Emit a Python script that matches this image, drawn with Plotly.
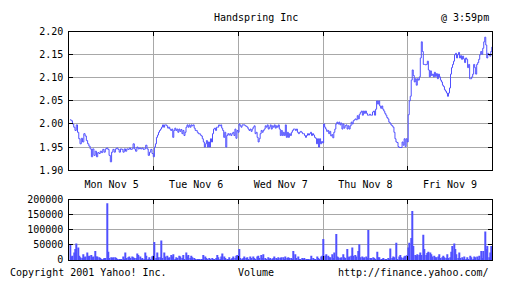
import plotly.graph_objects as go
import numpy as np

# ---------------- data ----------------
days = ["Mon Nov 5", "Tue Nov 6", "Wed Nov 7", "Thu Nov 8", "Fri Nov 9"]

price_mon = [2.009,2.007,2.000,1.993,1.986,1.998,1.982,1.968,1.957,1.969,1.961,1.979,1.974,1.964,1.957,1.952,1.946,1.929,1.946,1.932,1.941,1.929,1.938,1.936,1.941,1.938,1.945,1.939,1.946,1.948,1.945,1.932,1.918,1.939,1.945,1.939,1.946,1.948,1.945,1.939,1.946,1.945,1.939,1.946,1.941,1.946,1.945,1.948,1.945,1.946,1.957,1.946,1.941,1.950,1.946,1.948,1.946,1.948,1.945,1.946,1.954,1.946,1.932,1.939,1.945,1.936,1.929]
price_tue = [1.950,1.957,1.971,1.976,1.982,1.986,1.989,1.993,1.998,1.993,1.998,1.998,1.996,1.991,1.993,1.989,1.986,1.989,1.971,1.986,1.991,1.986,1.989,1.982,1.989,1.984,1.988,1.979,1.986,1.975,1.982,1.993,1.998,1.993,1.998,1.993,1.998,1.996,1.998,1.991,1.986,1.986,1.982,1.979,1.979,1.976,1.974,1.968,1.961,1.950,1.957,1.964,1.950,1.961,1.950,1.968,1.961,1.979,1.989,1.991,1.986,1.993,1.993,1.998,1.996,1.998,1.991,1.986,1.971,1.982,1.950,1.975,1.979,1.976,1.979,1.975,1.979,1.982,1.975,1.989,1.969,1.986,1.982]
price_wed = [2.000,1.996,1.993,1.998,1.998,1.998,1.996,1.995,1.993,1.989,1.986,1.989,1.984,1.989,1.993,1.996,1.979,1.982,1.971,1.961,1.968,1.979,1.986,1.982,1.986,1.989,1.996,1.993,1.998,1.989,1.993,1.998,1.989,1.996,1.993,1.998,1.991,1.996,1.993,1.998,1.989,1.975,1.986,1.975,1.982,1.975,1.998,1.971,1.982,1.971,1.979,1.975,1.982,1.986,1.989,1.989,1.986,1.989,1.982,1.979,1.982,1.984,1.982,1.979,1.979,1.975,1.971,1.975,1.979,1.976,1.979,1.982,1.975,1.979,1.976,1.971,1.969,1.957,1.968,1.950,1.968,1.957,1.962,1.959]
price_thu = [2.000,1.993,1.989,1.984,1.986,1.979,1.984,1.974,1.977,1.970,1.982,1.989,2.000,2.004,2.000,2.004,1.998,2.002,1.989,2.000,1.991,1.996,1.998,1.989,1.996,1.989,1.996,2.004,2.000,2.007,2.009,2.011,2.009,2.018,2.011,2.021,2.025,2.028,2.019,2.028,2.023,2.028,2.023,2.019,2.019,2.021,2.019,2.019,2.026,2.028,2.019,2.032,2.050,2.043,2.050,2.039,2.034,2.039,2.032,2.028,2.023,2.019,2.014,2.011,2.004,2.002,1.998,1.996,1.993,1.982,1.968,1.961,1.960,1.951,1.949,1.949,1.949,1.961,1.954,1.968,1.951,1.968,1.961]
price_fri = [2.020,2.050,2.060,2.095,2.117,2.105,2.091,2.098,2.084,2.098,2.095,2.102,2.143,2.178,2.157,2.129,2.129,2.128,2.129,2.136,2.117,2.102,2.115,2.105,2.108,2.102,2.112,2.103,2.109,2.098,2.108,2.102,2.095,2.091,2.084,2.081,2.074,2.071,2.067,2.060,2.067,2.078,2.108,2.122,2.129,2.136,2.150,2.153,2.143,2.150,2.155,2.143,2.148,2.140,2.147,2.141,2.133,2.143,2.140,2.122,2.129,2.098,2.098,2.102,2.108,2.129,2.122,2.108,2.129,2.133,2.140,2.150,2.157,2.151,2.164,2.178,2.188,2.171,2.143,2.153,2.150,2.147,2.157,2.167]

vol_mon = [52000,11000,14000,25000,36000,55000,41000,14000,9000,5000,19000,9000,11000,25000,12000,14000,16000,9000,11000,30000,11000,11000,9000,5000,3000,1000,5000,5000,189000,27000,5000,9000,5000,9000,9000,5000,3000,3000,3000,3000,11000,3000,25000,5000,9000,11000,5000,11000,9000,5000,5000,21000,16000,11000,3000,5000,3000,25000,14000,3000,9000,3000,12000,14000]
vol_tue = [60000,5000,25000,9000,9000,65000,5000,25000,11000,14000,5000,9000,16000,11000,19000,3000,9000,5000,14000,11000,5000,16000,3000,25000,11000,16000,5000,14000,9000,5000,3000,3000,1000,1000,1000,1000,16000,11000,5000,3000,5000,3000,5000,3000,3000,5000,16000,9000,3000,11000,21000,11000,5000,3000,3000,9000,3000,5000,11000,5000,14000,16000]
vol_wed = [36000,5000,3000,5000,11000,5000,9000,3000,11000,5000,11000,5000,3000,11000,14000,5000,16000,5000,19000,5000,3000,9000,3000,5000,3000,5000,11000,5000,3000,9000,5000,9000,9000,3000,11000,5000,9000,5000,5000,3000,30000,19000,5000,11000,3000,1000,5000,3000,5000,3000,1000,3000,3000,14000,5000,3000,3000,11000,5000,3000,11000,14000]
vol_thu = [70000,14000,19000,14000,9000,9000,19000,5000,25000,86000,11000,9000,5000,9000,19000,9000,5000,36000,9000,11000,14000,41000,14000,16000,11000,30000,52000,9000,11000,5000,9000,11000,5000,100000,5000,5000,9000,5000,3000,27000,9000,9000,3000,3000,5000,3000,3000,5000,3000,38000,5000,11000,9000,57000,3000,11000,16000,9000,5000,11000,14000,16000]
vol_fri = [41000,57000,73000,163000,46000,16000,14000,19000,16000,25000,16000,84000,36000,16000,23000,27000,25000,19000,11000,14000,9000,9000,11000,19000,5000,9000,14000,9000,5000,19000,5000,9000,27000,46000,55000,36000,19000,5000,25000,5000,9000,3000,11000,3000,9000,3000,14000,9000,3000,11000,9000,11000,3000,14000,30000,5000,30000,95000,36000,46000,9000,25000,46000]

price_days = [price_mon, price_tue, price_wed, price_thu, price_fri]
vol_days = [vol_mon, vol_tue, vol_wed, vol_thu, vol_fri]
price_ticks = [1.90, 1.95, 2.00, 2.05, 2.10, 2.15, 2.20]
vol_ticks = [0, 50000, 100000, 150000, 200000]

# ---------------- build series ----------------
def spread(lists):
    xs, ys = [], []
    for d, vals in enumerate(lists):
        n = len(vals)
        xs.extend(d + (np.arange(n) + 0.5) / n)
        ys.extend(vals)
    return xs, ys

px_, py_ = spread(price_days)
vx_, vy_ = spread(vol_days)

W, H = 512, 288
def fx(p): return p / W
def fy(p): return 1 - p / H

BLUE = "#5050ff"
GRID = "#a8a8a8"
FONT = "DejaVu Sans Mono"

fig = go.Figure()
fig.add_trace(go.Scatter(x=px_, y=py_, mode="lines", line=dict(color=BLUE, width=1, shape="hv"),
                         xaxis="x", yaxis="y", hoverinfo="skip", showlegend=False))
fig.add_trace(go.Bar(x=vx_, y=vy_, marker=dict(color=BLUE, line=dict(width=0)),
                     xaxis="x2", yaxis="y2", hoverinfo="skip", showlegend=False))
# carrier for day labels
fig.add_trace(go.Scatter(x=[d + 0.5 for d in range(5)], y=[None] * 5, mode="markers",
                         xaxis="x3", yaxis="y", hoverinfo="skip", showlegend=False))

xdom = [fx(69.3), fx(492.3)]
common_x = dict(range=[0, 5], tickvals=[0, 1, 2, 3, 4, 5], ticktext=[""] * 6,
                ticks="inside", ticklen=4, tickcolor="black", mirror="ticks",
                showline=True, linecolor="black", linewidth=1,
                showgrid=True, gridcolor=GRID, gridwidth=1, zeroline=False,
                domain=xdom, fixedrange=True)

fig.update_layout(
    width=W, height=H, margin=dict(l=0, r=0, t=0, b=0),
    paper_bgcolor="white", plot_bgcolor="white",
    font=dict(family=FONT, size=10, color="black"),
    bargap=0.2,
    xaxis=dict(common_x, anchor="y"),
    xaxis2=dict(common_x, anchor="y2"),
    xaxis3=dict(range=[0, 5], overlaying="x", anchor="y", side="bottom",
                tickvals=[d + 0.5 for d in range(5)], ticktext=days,
                ticks="", showgrid=False, showline=False, zeroline=False,
                domain=xdom, ticklabelstandoff=7,
                tickfont=dict(family=FONT, size=10, color="black")),
    yaxis=dict(range=[1.90, 2.20], tickvals=price_ticks,
               ticktext=[f"{v:.2f}" for v in price_ticks],
               ticks="inside", ticklen=4, tickcolor="black", mirror="ticks",
               showline=True, linecolor="black", linewidth=1,
               showgrid=True, gridcolor=GRID, zeroline=False, ticklabelstandoff=3,
               domain=[fy(171.7), fy(27.7)], anchor="x", fixedrange=True),
    yaxis2=dict(range=[0, 200000], tickvals=vol_ticks,
                ticktext=[str(v) for v in vol_ticks],
                ticks="inside", ticklen=4, tickcolor="black", mirror="ticks",
                showline=True, linecolor="black", linewidth=1,
                showgrid=True, gridcolor=GRID, zeroline=False, ticklabelstandoff=3,
                domain=[fy(265.0), fy(202.7)], anchor="x2", fixedrange=True),
)

ann = dict(showarrow=False, xref="paper", yref="paper",
           font=dict(family=FONT, size=10, color="black"))
fig.add_annotation(ann, text="Handspring Inc", x=fx(256), y=fy(12.5), xanchor="center", yanchor="middle")
fig.add_annotation(ann, text="@ 3:59pm", x=fx(491), y=fy(12.5), xanchor="right", yanchor="middle")
fig.add_annotation(ann, text="Copyright 2001 Yahoo! Inc.", x=fx(8), y=fy(278.5), xanchor="left", yanchor="middle")
fig.add_annotation(ann, text="Volume", x=fx(236), y=fy(278.5), xanchor="left", yanchor="middle")
fig.add_annotation(ann, text="http://finance.yahoo.com/", x=fx(491), y=fy(278.5), xanchor="right", yanchor="middle")

fig.write_html("out.html", config={"displayModeBar": False})
